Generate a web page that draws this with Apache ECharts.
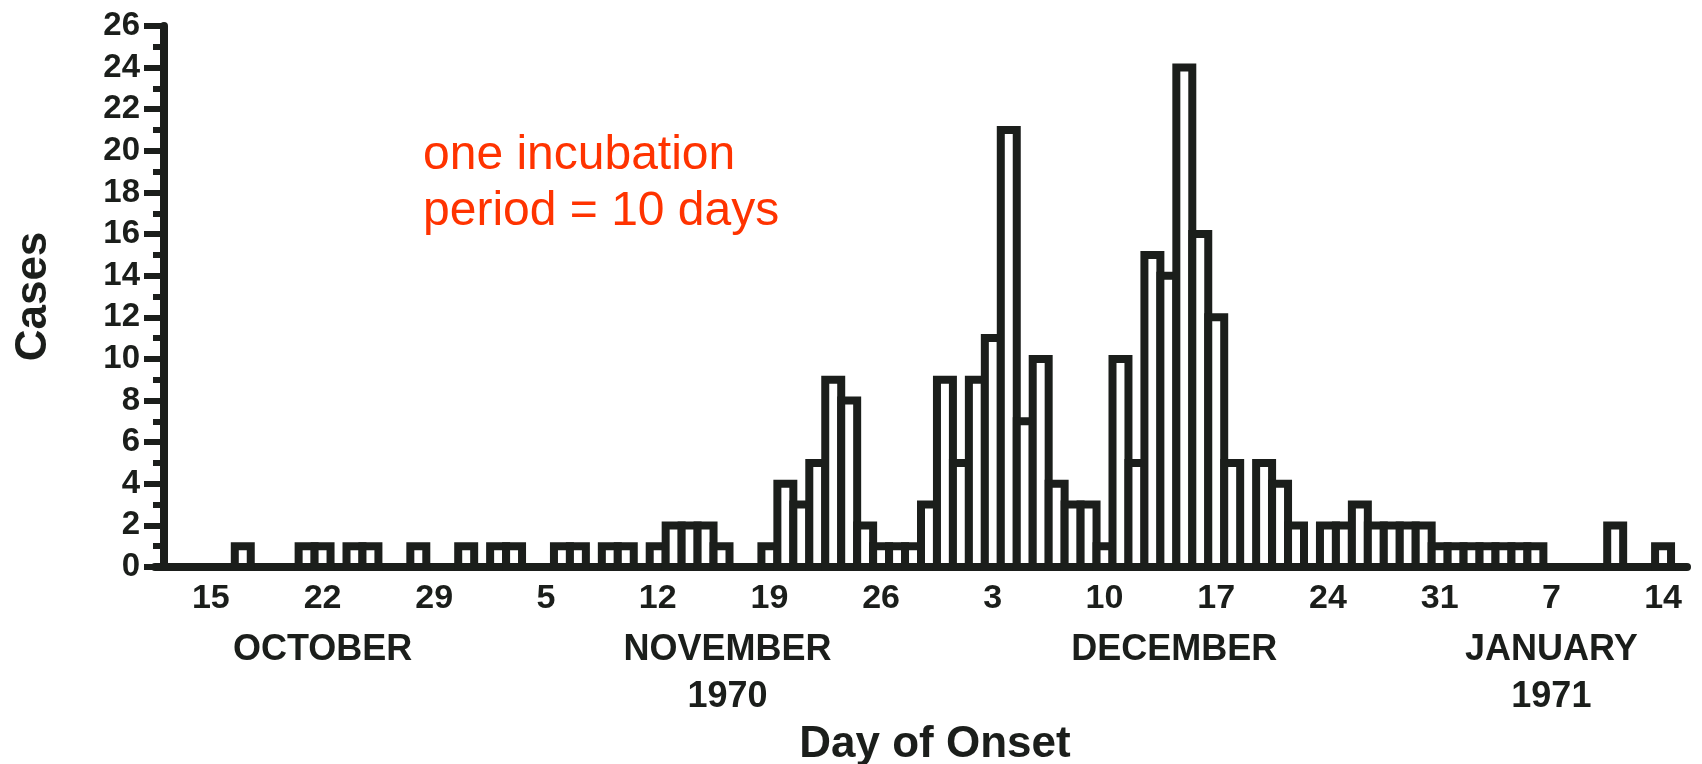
<!DOCTYPE html>
<html>
<head>
<meta charset="utf-8">
<title>Day of Onset</title>
<script src="https://cdn.jsdelivr.net/npm/echarts@6/dist/echarts.min.js"></script>
<style>
  html, body { margin: 0; padding: 0; background: #fff; }
  #box { width: 1702px; height: 764px; }
</style>
</head>
<body>
<div id="box"></div>
<script>
// cases per day, 12 Oct 1970 .. 15 Jan 1971
const octCases = [0, 0, 0, 0, 0, 1, 0, 0, 0, 1, 1, 0, 1, 1, 0, 0, 1, 0, 0, 1]; // Oct 12-31
const novCases = [0, 1, 1, 0, 0, 1, 1, 0, 1, 1, 0, 1, 2, 2, 2, 1, 0, 0, 1, 4,
                  3, 5, 9, 8, 2, 1, 1, 1, 3, 9]; // Nov 1-30
const decCases = [5, 9, 11, 21, 7, 10, 4, 3, 3, 1, 10, 5, 15, 14, 24, 16, 12, 5, 0, 5,
                  4, 2, 0, 2, 2, 3, 2, 2, 2, 2, 1]; // Dec 1-31
const janCases = [1, 1, 1, 1, 1, 1, 0, 0, 0, 0, 2, 0, 0, 1, 0]; // Jan 1-15

// tick labels under the axis (one a week)
const tickDays = ['Oct 15', 'Oct 22', 'Oct 29', 'Nov 5', 'Nov 12', 'Nov 19', 'Nov 26',
                  'Dec 3', 'Dec 10', 'Dec 17', 'Dec 24', 'Dec 31', 'Jan 7', 'Jan 14'];
// month / year captions, placed under these days
const monthAt = ['Oct 22', 'Nov 16', 'Dec 14', 'Jan 7'];
const monthNames = ['OCTOBER', 'NOVEMBER', 'DECEMBER', 'JANUARY'];
const yearNames = ['', '1970', '', '1971'];

const yMax = 26;
const yStep = 2;

// build category list + values
let days = [];
let cases = [];
octCases.forEach((v, i) => { days.push('Oct ' + (12 + i)); cases.push(v); });
novCases.forEach((v, i) => { days.push('Nov ' + (1 + i)); cases.push(v); });
decCases.forEach((v, i) => { days.push('Dec ' + (1 + i)); cases.push(v); });
janCases.forEach((v, i) => { days.push('Jan ' + (1 + i)); cases.push(v); });

const ink = '#1b1e1b';
const font = '"Liberation Sans", Arial, Helvetica, sans-serif';

let chart = echarts.init(document.getElementById('box'), null, { renderer: 'canvas' });

// outlined histogram bar: stroke sits on the bar edge, neighbours share a wall
function renderBar(params, api) {
  let v = api.value(1);
  if (!v) return null;
  let top = api.coord([api.value(0), v]);
  let base = api.coord([api.value(0), 0]);
  let w = api.size([1, 0])[0];
  return {
    type: 'rect',
    shape: { x: top[0] - w / 2, y: top[1], width: w, height: base[1] - top[1] },
    style: { fill: '#fff', stroke: ink, lineWidth: 8, lineJoin: 'miter' }
  };
}

let option = {
  animation: false,
  backgroundColor: '#fff',
  grid: { left: 155, right: 15, top: 26, bottom: 197, containLabel: false, outerBoundsMode: 'none' },
  xAxis: {
    type: 'category',
    data: days,
    boundaryGap: true,
    axisLine: { lineStyle: { color: ink, width: 8 } },
    axisTick: { show: false },
    axisLabel: {
      interval: (i, v) => tickDays.indexOf(v) >= 0 || monthAt.indexOf(v) >= 0,
      margin: 4,
      formatter: v => {
        let day = tickDays.indexOf(v) >= 0 ? v.split(' ')[1] : ' ';
        let k = monthAt.indexOf(v);
        if (k < 0) return '{d|' + day + '}';
        let m = (k === 1 || k === 2) ? 'ms' : 'm';
        let s = '{d|' + day + '}\n{' + m + '|' + monthNames[k] + '}';
        if (yearNames[k]) s += '\n{' + m + '|' + yearNames[k] + '}';
        return s;
      },
      rich: {
        d: { fontSize: 34, lineHeight: 56, color: ink, fontFamily: font, fontWeight: 'bold' },
        m: { fontSize: 36, lineHeight: 47, color: ink, fontFamily: font, fontWeight: 'bold' },
        ms: { fontSize: 36, lineHeight: 47, color: ink, fontFamily: font, fontWeight: 'bold', padding: [0, 0, 0, 12] }
      }
    },
    name: 'Day of Onset',
    nameLocation: 'middle',
    nameGap: 156,
    nameMoveOverlap: false,
    nameTextStyle: { fontSize: 44, color: ink, fontFamily: font, fontWeight: 'bold', padding: [0, 0, 0, 28] }
  },
  yAxis: {
    type: 'value',
    min: 0,
    max: yMax,
    interval: yStep,
    offset: -9,
    axisLine: { show: true, lineStyle: { color: ink, width: 8 } },
    axisTick: { show: true, length: 20, lineStyle: { color: ink, width: 6 } },
    minorTick: { show: true, splitNumber: 2, length: 11, lineStyle: { color: ink, width: 6 } },
    splitLine: { show: false },
    minorSplitLine: { show: false },
    axisLabel: { color: ink, fontSize: 33, fontFamily: font, fontWeight: 'bold', margin: 24 },
    name: 'Cases',
    nameLocation: 'middle',
    nameRotate: 90,
    nameGap: 108,
    nameMoveOverlap: false,
    nameTextStyle: { fontSize: 44, color: ink, fontFamily: font, fontWeight: 'bold' }
  },
  series: [
    {
      type: 'custom',
      renderItem: renderBar,
      data: cases.map((v, i) => [i, v]),
      encode: { x: 0, y: 1 },
      silent: true
    }
  ],
  graphic: [
    {
      type: 'text',
      left: 423,
      top: 128,
      style: {
        text: 'one incubation\nperiod = 10 days',
        fill: '#ff3300',
        fontSize: 48,
        fontFamily: font,
        lineHeight: 56
      }
    }
  ]
};

chart.setOption(option);
</script>
</body>
</html>
